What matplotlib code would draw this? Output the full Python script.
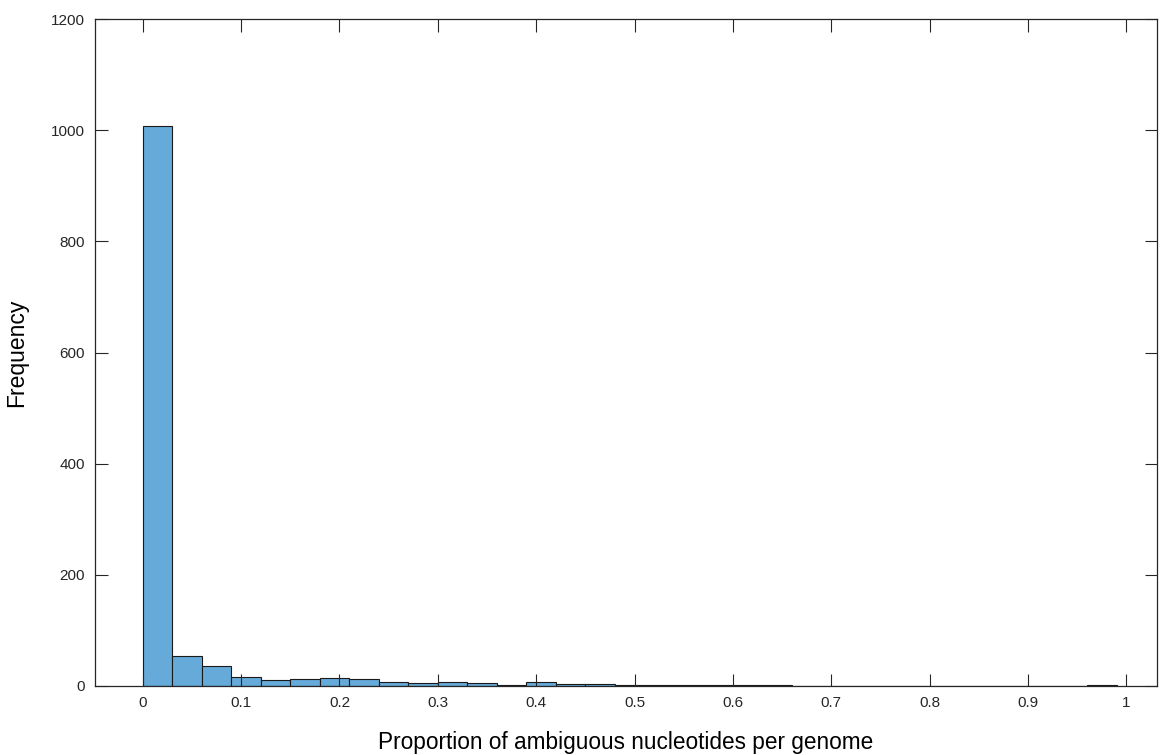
import numpy as np
import matplotlib
matplotlib.use("Agg")
import matplotlib.pyplot as plt

plt.rcParams['font.family'] = ['Liberation Sans', 'DejaVu Sans']

# histogram counts (bins of width 0.03 starting at 0)
bin_width = 0.03
counts = [1008, 54, 36, 16, 11, 12, 14, 13, 8, 5,
          7, 5, 2, 7, 3, 4, 2, 2, 1, 1,
          2, 1, 0, 0, 0, 0, 0, 0, 0, 0,
          0, 0, 1]
bin_left = np.round(bin_width * np.arange(len(counts)), 2)

xticks = [0, 0.1, 0.2, 0.3, 0.4, 0.5, 0.6, 0.7, 0.8, 0.9, 1]
xticklabels = ['0', '0.1', '0.2', '0.3', '0.4', '0.5', '0.6', '0.7', '0.8', '0.9', '1']
yticks = [0, 200, 400, 600, 800, 1000, 1200]

fig = plt.figure(figsize=(11.6, 7.55), dpi=100)
ax = fig.add_axes([0.0815, 0.0914, 0.9159, 0.8834])

ax.bar(bin_left, counts, width=bin_width, align='edge',
       color='#65aad8', edgecolor='#1a1a1a', linewidth=0.8)

ax.set_xlim(-0.049, 1.031)
ax.set_ylim(0, 1200)
ax.set_xticks(xticks)
ax.set_xticklabels(xticklabels)
ax.set_yticks(yticks)

ax.tick_params(direction='in', length=9, width=0.8, top=True, right=True,
               labelsize=11, colors='#262626', pad=7)
for s in ax.spines.values():
    s.set_color('#262626')
    s.set_linewidth(0.9)

ax.set_xlabel('Proportion of ambiguous nucleotides per genome', fontsize=16.3,
              color='#000000', labelpad=15)
ax.set_ylabel('Frequency', fontsize=16.5, color='#000000', labelpad=16)

fig.savefig('out.png', dpi=100)
